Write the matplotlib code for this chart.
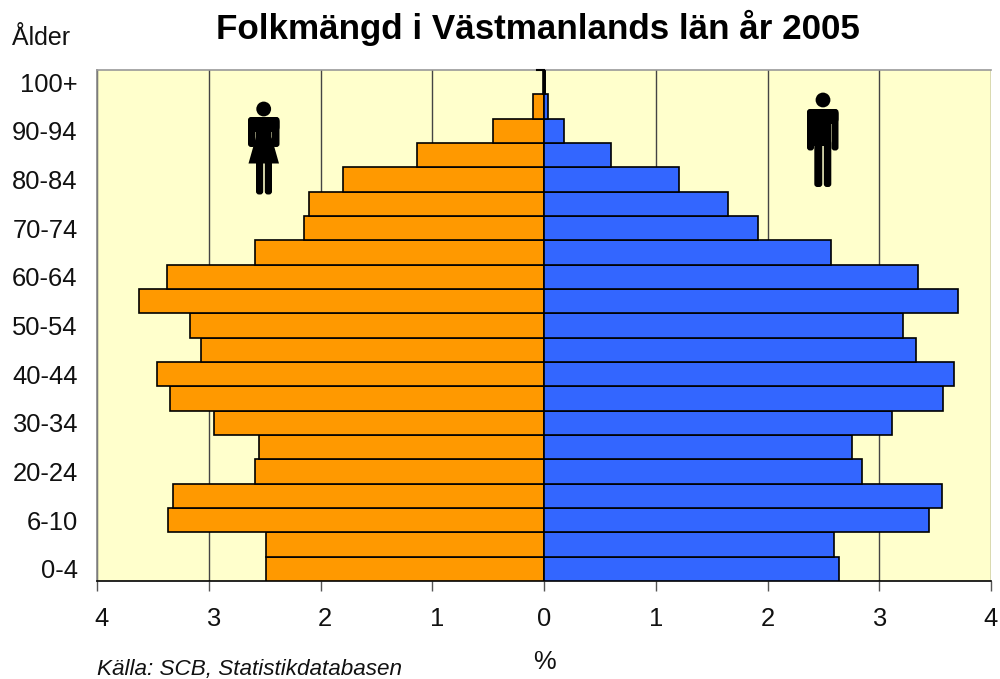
import numpy as np
import matplotlib
matplotlib.use("Agg")
import matplotlib.pyplot as plt
from matplotlib.patches import Circle, FancyBboxPatch, Polygon
from matplotlib.transforms import ScaledTranslation

# bottom to top, percent of population per age group
age_labels = ["0-4", "", "6-10", "", "20-24", "", "30-34", "", "40-44", "", "50-54",
              "", "60-64", "", "70-74", "", "80-84", "", "90-94", "", "100+"]
women = [2.49, 2.49, 3.365, 3.32, 2.585, 2.55, 2.95, 3.35, 3.46, 3.07, 3.17,
         3.62, 3.37, 2.585, 2.15, 2.10, 1.80, 1.136, 0.456, 0.10, 0.005]
men = [2.64, 2.595, 3.445, 3.56, 2.845, 2.756, 3.114, 3.57, 3.67, 3.33, 3.21,
       3.705, 3.347, 2.568, 1.915, 1.647, 1.208, 0.60, 0.18, 0.035, 0.005]
x_ticks = [-4, -3, -2, -1, 0, 1, 2, 3, 4]
x_tick_labels = ["4", "3", "2", "1", "0", "1", "2", "3", "4"]

plt.rcParams["font.family"] = ["Liberation Sans", "DejaVu Sans"]

W, H = 1000, 679
fig = plt.figure(figsize=(W / 100, H / 100), dpi=100)
ax = fig.add_axes([97 / W, 1 - 581 / H, (991 - 97) / W, (581 - 70) / H])
ax.set_facecolor("#FFFFCC")

y = np.arange(len(age_labels))
ax.barh(y, -np.array(women), height=1.0, color="#FF9900", edgecolor="black", linewidth=1.2, zorder=3)
ax.barh(y, men, height=1.0, color="#3366FF", edgecolor="black", linewidth=1.2, zorder=3)

ax.set_xlim(-4, 4)
ax.set_ylim(-0.5, 20.5)
ax.set_xticks(x_ticks)
ax.set_xticklabels(x_tick_labels, fontsize=18.4, color="#111111")
ax.set_yticks(y)
ax.set_yticklabels(age_labels, fontsize=18.4, color="#111111")
ax.tick_params(axis="y", length=0, pad=14)
ax.tick_params(axis="x", length=7, width=1, color="#555555", pad=11.5)
ax.grid(axis="x", color="#444444", linewidth=1, zorder=1)

# negative side labels sit off-centre in the original (room for a lost minus sign)
for val, lab in zip(x_ticks, ax.get_xticklabels()):
    if val < 0:
        lab.set_transform(lab.get_transform() + ScaledTranslation(4.5 / 100, 0, fig.dpi_scale_trans))

ax.spines["right"].set_visible(False)
ax.spines["top"].set_color("#999999")
ax.spines["left"].set_color("#888888")
ax.spines["bottom"].set_color("black")
for s in ax.spines.values():
    s.set_linewidth(1.2)
ax.axvline(0, color="black", linewidth=2, zorder=2.5)
ax.plot([-0.06, 0], [20.5, 20.5], color="black", linewidth=1.5, zorder=4, clip_on=False)

fig.text(537.5 / W, 1 - 27.5 / H, "Folkmängd i Västmanlands län år 2005", fontsize=25.2,
         fontweight="bold", ha="center", va="center", color="black")
fig.text(41.5 / W, 1 - 38 / H, "Ålder", fontsize=18, ha="center", va="center", color="#111111")
fig.text(544 / W, 1 - 662 / H, "%", fontsize=18.4, ha="center", va="center", color="#111111")
fig.text(97 / W, 1 - 670 / H, "Källa: SCB, Statistikdatabasen", fontsize=16.2, style="italic",
         ha="left", va="center", color="#111111")

# overlay in pixel coordinates for the two figure icons
ov = fig.add_axes([0, 0, 1, 1], facecolor="none")
ov.set_xlim(0, W)
ov.set_ylim(H, 0)
ov.axis("off")


def limb(x0, y0, x1, y1, r=3.0):
    ov.add_patch(FancyBboxPatch((x0 + r, y0 + r), x1 - x0 - 2 * r, y1 - y0 - 2 * r,
                                boxstyle=f"round,pad={r}", fc="black", ec="none", zorder=6))


# woman
ov.add_patch(Circle((263.7, 109), 7.4, fc="black", ec="none", zorder=6))
limb(248, 117, 279.5, 132, r=5)
limb(248, 117, 255.5, 147)
limb(272, 117, 279.5, 147)
ov.add_patch(Polygon([(256, 118), (271.5, 118), (271.5, 137), (279, 163.5), (248.5, 163.5), (256, 137)],
                     fc="black", ec="none", zorder=6))
limb(256, 155, 263.2, 194.5)
limb(264.8, 155, 272, 194.5)

# man
ov.add_patch(Circle((823, 100), 7.4, fc="black", ec="none", zorder=6))
limb(807, 109, 838.5, 124, r=5)
limb(807, 109, 814, 150.5)
limb(831.5, 109, 838.5, 150.5)
ov.add_patch(Polygon([(814.3, 112), (831.3, 112), (831.3, 146), (814.3, 146)], fc="black", ec="none", zorder=6))
limb(814.3, 140, 822.3, 187)
limb(823.8, 140, 831.3, 187)

fig.savefig("out.png", dpi=100)
